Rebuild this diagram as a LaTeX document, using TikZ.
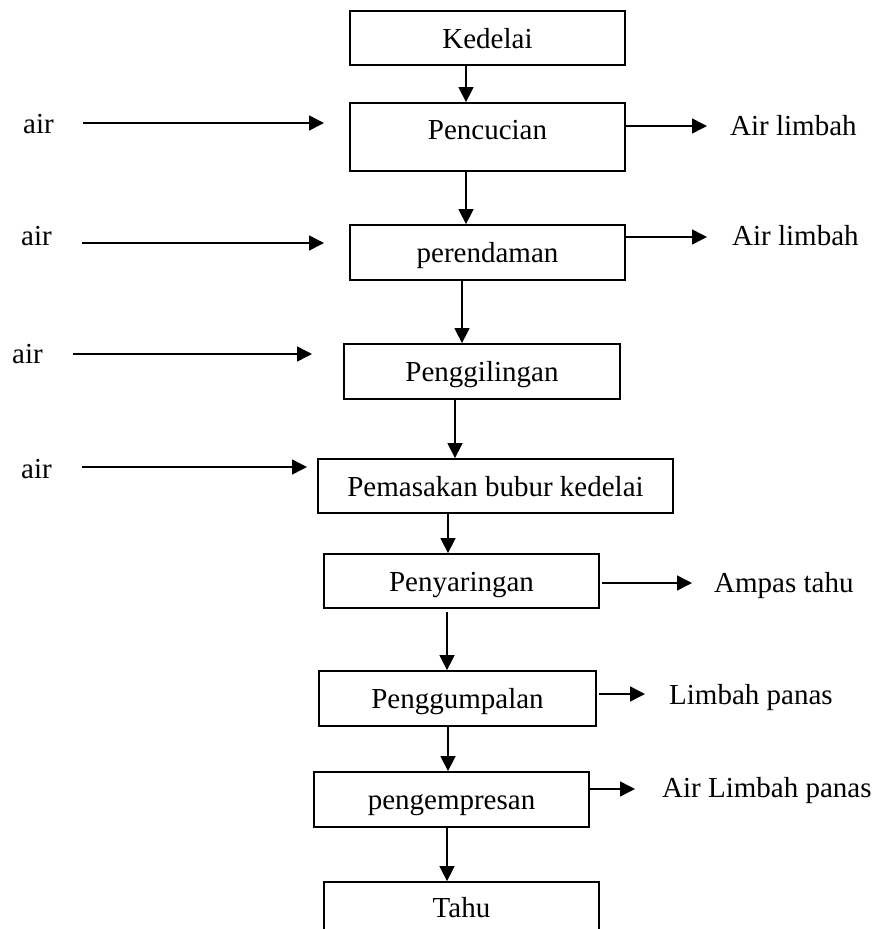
\documentclass[tikz,border=0pt]{standalone}
\usepackage{fontspec}
\setmainfont{Liberation Serif}
\usetikzlibrary{arrows.meta}
\begin{document}
\begin{tikzpicture}[x=1pt,y=-1pt,
  font=\fontsize{29}{34}\selectfont,
  procbox/.style={draw, line width=1.8pt, minimum width=#1, inner sep=0pt,
    text height=20pt, text depth=0pt},
  procbox/.default=275pt,
  flow/.style={line width=1.5pt, -{Triangle[length=15pt,width=15pt]}},
  lbl/.style={anchor=base west, inner sep=0pt}]
\useasboundingbox (0,0) rectangle (879,929);

% process chain
\node[procbox, minimum height=54pt] (kedelai) at (487.5,38) {Kedelai};
\node[procbox, minimum height=68pt, text depth=16pt] (pencucian) at (487.5,137) {Pencucian};
\node[procbox, minimum height=55pt] (perendaman) at (487.5,252.5) {perendaman};
\node[procbox=276pt, minimum height=55pt] (penggilingan) at (482,371.5) {Penggilingan};
\node[procbox=355pt, minimum height=54pt] (pemasakan) at (495.5,486) {Pemasakan bubur kedelai};
\node[procbox, minimum height=54pt] (penyaringan) at (461.5,581) {Penyaringan};
\node[procbox=277pt, minimum height=55pt] (penggumpalan) at (457.5,698.5) {Penggumpalan};
\node[procbox, minimum height=55pt] (pengempresan) at (451.5,799.5) {pengempresan};
\node[procbox, minimum height=50pt] (tahu) at (461.5,907) {Tahu};

% downward flow
\draw[flow] (466,0 |- kedelai.south) -- (466,0 |- pencucian.north);
\draw[flow] (466,0 |- pencucian.south) -- (466,0 |- perendaman.north);
\draw[flow] (462,0 |- perendaman.south) -- (462,0 |- penggilingan.north);
\draw[flow] (455,0 |- penggilingan.south) -- (455,0 |- pemasakan.north);
\draw[flow] (448,0 |- pemasakan.south) -- (448,0 |- penyaringan.north);
\draw[flow] (447,612) -- (447,0 |- penggumpalan.north);
\draw[flow] (448,0 |- penggumpalan.south) -- (448,0 |- pengempresan.north);
\draw[flow] (447,0 |- pengempresan.south) -- (447,0 |- tahu.north);

% water inputs
\node[lbl] (air1) at (23,133) {air};
\node[lbl] (air2) at (21,245) {air};
\node[lbl] (air3) at (12,363) {air};
\node[lbl] (air4) at (21,478) {air};
\coordinate (in1s) at (83,123);  \coordinate (in1e) at (324,123);
\coordinate (in2s) at (82,243);  \coordinate (in2e) at (324,243);
\coordinate (in3s) at (73,354);  \coordinate (in3e) at (312,354);
\coordinate (in4s) at (82,467);  \coordinate (in4e) at (307,467);
\draw[flow] (in1s) -- (in1e);
\draw[flow] (in2s) -- (in2e);
\draw[flow] (in3s) -- (in3e);
\draw[flow] (in4s) -- (in4e);

% outputs
\node[lbl] (out1) at (730,135) {Air limbah};
\node[lbl] (out2) at (732,245) {Air limbah};
\node[lbl] (out3) at (714,592) {Ampas tahu};
\node[lbl] (out4) at (669,704) {Limbah panas};
\node[lbl] (out5) at (662,797) {Air Limbah panas};
\coordinate (o1) at (707,126);
\coordinate (o2) at (707,237);
\coordinate (o3) at (692,583);
\coordinate (o4) at (645,694);
\coordinate (o5) at (635,789);
\draw[flow] (pencucian.east |- o1) -- (o1);
\draw[flow] (perendaman.east |- o2) -- (o2);
\draw[flow] ([xshift=2pt]penyaringan.east |- o3) -- (o3);
\draw[flow] ([xshift=2pt]penggumpalan.east |- o4) -- (o4);
\draw[flow] (pengempresan.east |- o5) -- (o5);
\end{tikzpicture}
\end{document}
